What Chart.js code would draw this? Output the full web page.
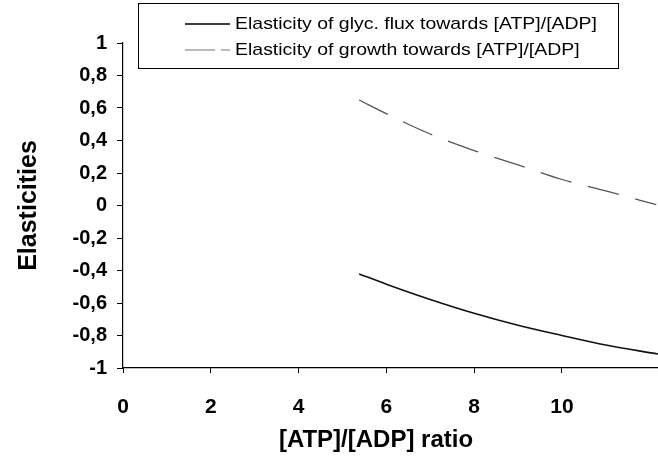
<!DOCTYPE html>
<html>
<head>
<meta charset="utf-8">
<script src="https://cdn.jsdelivr.net/npm/chart.js@4/dist/chart.umd.min.js"></script>
<style>
  html, body { margin: 0; padding: 0; background: #fff; }
  #wrap { width: 658px; height: 459px; }
</style>
</head>
<body>
<div id="wrap"><canvas id="chart" width="658" height="459"></canvas></div>
<script>
// values
const fluxX   = [5.38, 6, 7, 8, 9, 10, 11, 12.19];
const fluxY   = [-0.421, -0.484, -0.578, -0.663, -0.737, -0.80, -0.859, -0.914];
const growthX = [5.38, 6, 7, 8, 9, 10, 11, 12.15];
const growthY = [0.649, 0.565, 0.44, 0.338, 0.25, 0.16, 0.09, 0.005];
const seriesNames = [
  'Elasticity of glyc. flux towards [ATP]/[ADP]',
  'Elasticity of growth towards [ATP]/[ADP]'
];
const xTicks = [0, 2, 4, 6, 8, 10];
const xTitle = '[ATP]/[ADP] ratio';
const yTitle = 'Elasticities';

const growthDash = [32, 17];
const font = '"Liberation Sans", Arial, sans-serif';

function pts(xs, ys){ return xs.map((x, i) => ({ x: x, y: ys[i] })); }

function yLabel(v){
  const r = Math.round(v * 10) / 10;
  if (r === 0) return '0';
  if (Number.isInteger(r)) return String(r);
  return r.toFixed(1).replace('.', ',');
}

// legend box and x title drawn by hand so they sit where the original has them
const extras = {
  id: 'extras',
  afterDraw(chart){
    const ctx = chart.ctx;
    ctx.save();
    // legend box
    ctx.fillStyle = '#fff';
    ctx.fillRect(138, 3, 480, 65);
    ctx.strokeStyle = '#000';
    ctx.lineWidth = 1;
    ctx.strokeRect(138.5, 3.5, 480, 65);
    const rows = [24, 50];
    ctx.lineWidth = 1.5;
    ctx.beginPath();
    ctx.strokeStyle = '#000';
    ctx.moveTo(185, rows[0]); ctx.lineTo(230, rows[0]);
    ctx.stroke();
    ctx.beginPath();
    ctx.strokeStyle = '#777';
    ctx.lineWidth = 1.2;
    ctx.setLineDash([30, 6]);
    ctx.moveTo(185, rows[1]); ctx.lineTo(230, rows[1]);
    ctx.stroke();
    ctx.setLineDash([]);
    ctx.fillStyle = '#000';
    ctx.font = '17px ' + font;
    ctx.textBaseline = 'middle';
    ctx.textAlign = 'left';
    const sx = 362 / ctx.measureText(seriesNames[0]).width;
    seriesNames.forEach((name, i) => {
      ctx.save();
      ctx.translate(235, rows[i]);
      ctx.scale(sx, 1);
      ctx.fillText(name, 0, 0);
      ctx.restore();
    });
    // x title
    ctx.font = 'bold 24px ' + font;
    ctx.textAlign = 'center';
    ctx.fillText(xTitle, 376, 440);
    ctx.restore();
  }
};

new Chart(document.getElementById('chart'), {
  type: 'line',
  data: {
    datasets: [
      {
        label: seriesNames[0],
        data: pts(fluxX, fluxY),
        borderColor: '#111',
        borderWidth: 1.6,
        pointRadius: 0,
        cubicInterpolationMode: 'monotone',
        fill: false
      },
      {
        label: seriesNames[1],
        data: pts(growthX, growthY),
        borderColor: '#555',
        borderWidth: 1.3,
        borderDash: growthDash,
        pointRadius: 0,
        cubicInterpolationMode: 'monotone',
        fill: false
      }
    ]
  },
  options: {
    responsive: false,
    animation: false,
    layout: { padding: { top: 43, right: 0, bottom: 0, left: 14 } },
    plugins: { legend: { display: false }, tooltip: { enabled: false } },
    scales: {
      x: {
        type: 'linear',
        min: 0,
        max: 12.19,
        afterBuildTicks: s => { s.ticks = xTicks.map(v => ({ value: v })); },
        afterFit: s => { s.height = 91; },
        border: { color: '#000', width: 1.2 },
        grid: { drawOnChartArea: false, drawTicks: true, tickLength: 5, color: '#000' },
        ticks: { color: '#000', padding: 22, maxRotation: 0, font: { family: font, size: 21, weight: 'bold' } }
      },
      y: {
        min: -1,
        max: 1,
        ticks: {
          stepSize: 0.2,
          color: '#000',
          padding: 10,
          font: { family: font, size: 20, weight: 'bold' },
          callback: v => yLabel(v)
        },
        afterFit: s => { s.width = 109; },
        border: { color: '#000', width: 1.2 },
        grid: { drawOnChartArea: false, drawTicks: true, tickLength: 6, color: '#000' },
        title: { display: true, text: yTitle, color: '#000', padding: 0, font: { family: font, size: 25, weight: 'bold' } }
      }
    }
  },
  plugins: [extras]
});
</script>
</body>
</html>
